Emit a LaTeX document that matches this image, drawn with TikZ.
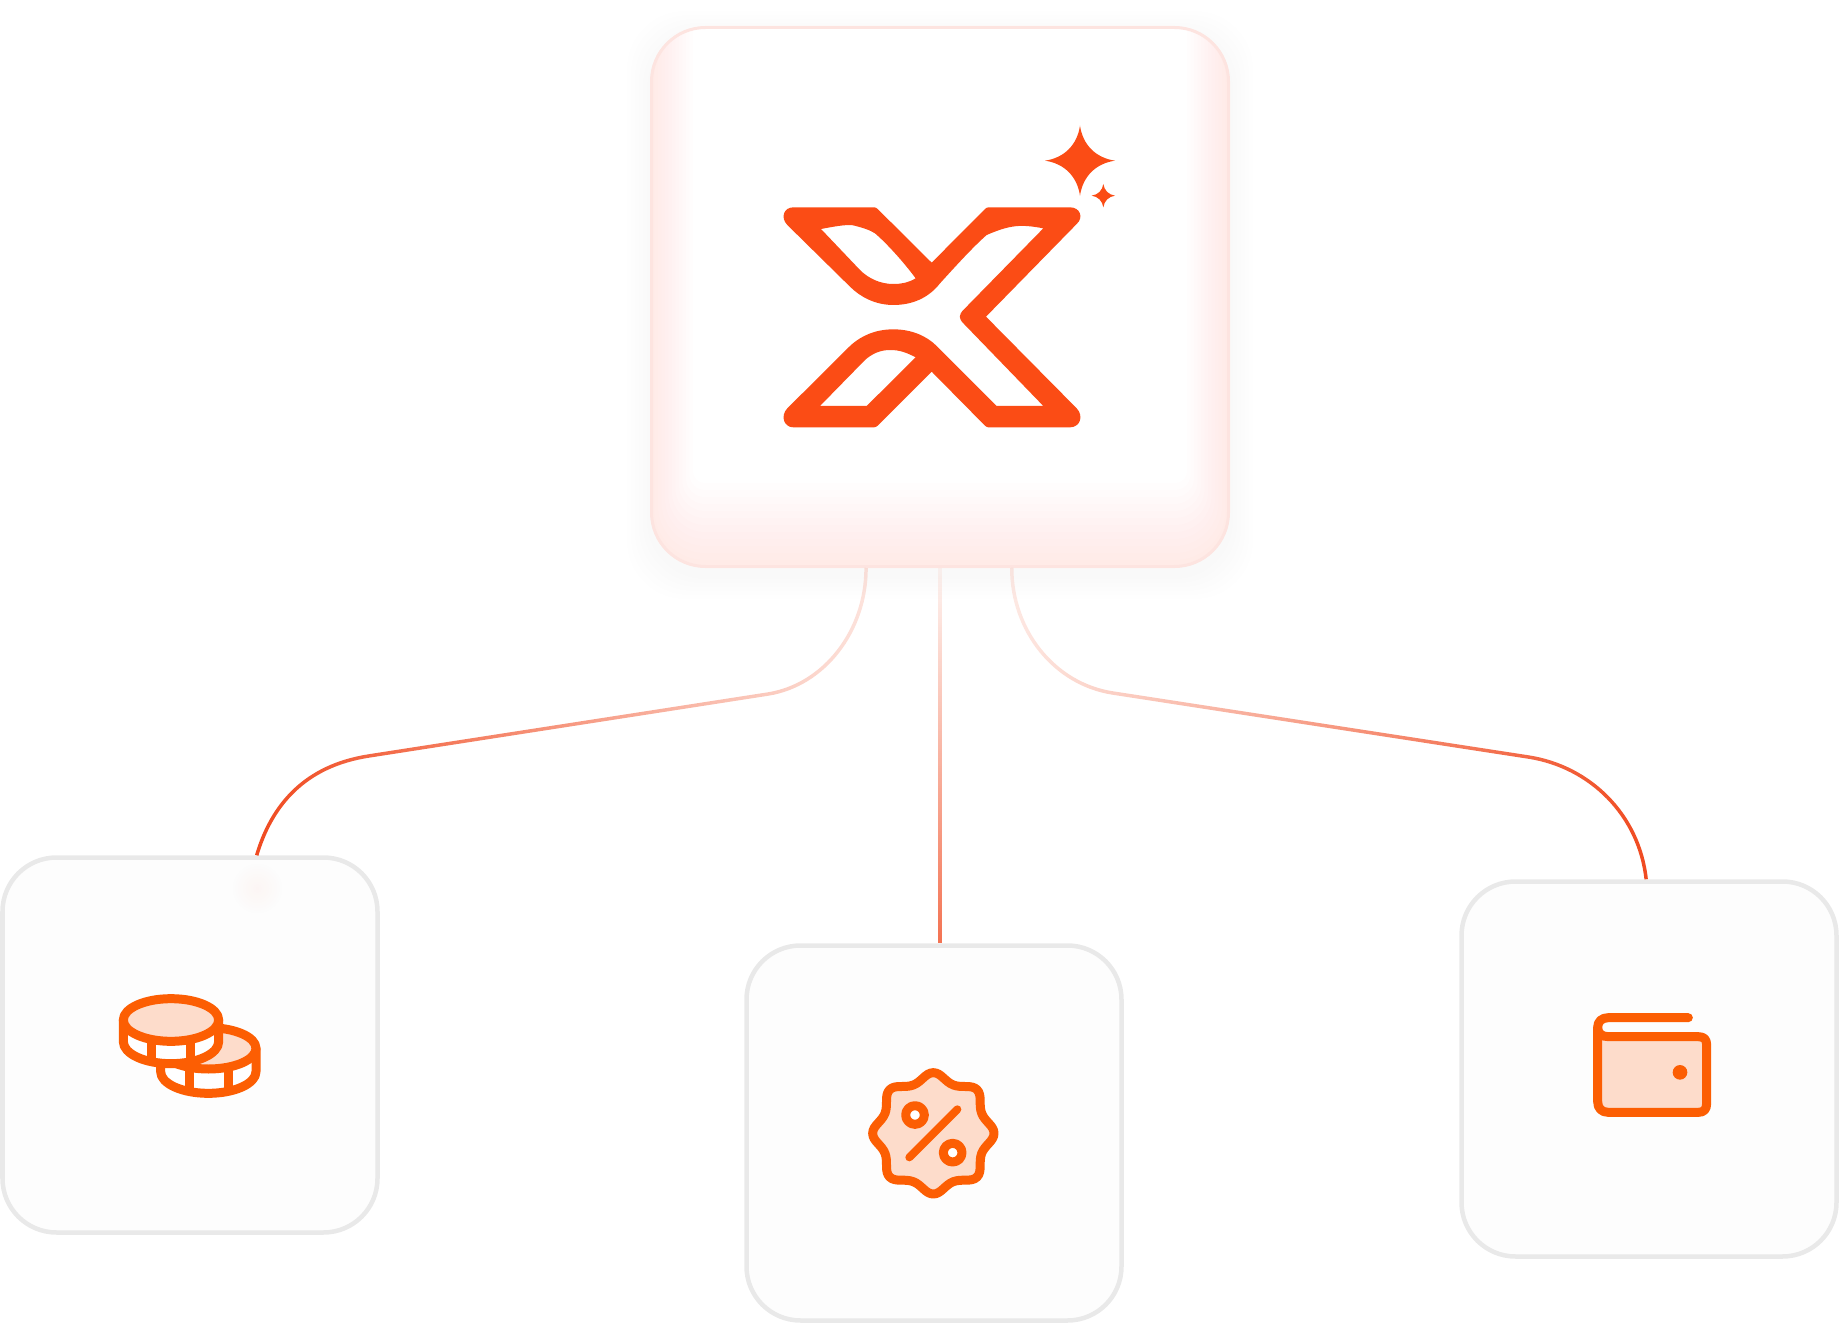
\documentclass[tikz,border=0pt]{standalone}
\usetikzlibrary{fadings,calc}
\definecolor{logoc}{HTML}{FB4C15}
\definecolor{iconc}{HTML}{FC5E03}
\definecolor{peach}{HTML}{FDDCCB}
\definecolor{linec}{HTML}{F04A20}
\definecolor{cardfill}{HTML}{FDFDFD}
\definecolor{cardline}{HTML}{E9E9E9}
\definecolor{mainline}{HTML}{FDE4E0}
\definecolor{glowc}{HTML}{FF7050}
\tikzfading[name=fadeleftline,left color=transparent!0,middle color=transparent!5,right color=transparent!85]
\tikzfading[name=faderightline,right color=transparent!0,middle color=transparent!5,left color=transparent!88]
\tikzfading[name=fadedownline,bottom color=transparent!22,top color=transparent!95]
\tikzfading[name=softspot,inner color=transparent!96,outer color=transparent!100]
\tikzset{
  cardbox/.style={draw=cardline,fill=cardfill,line width=4.5pt,rounded corners=54pt,minimum width=375pt,minimum height=375pt,inner sep=0pt},
  mainbox/.style={draw=mainline,line width=3pt,rounded corners=54pt,minimum width=577pt,minimum height=539pt,inner sep=0pt},
  conn/.style={draw=linec,line width=3.5pt,line cap=butt},
  iconline/.style={draw=iconc,line width=9pt,line join=round,line cap=round},
  zoomA/.style={shift={(#1)},x=0.33333pt,y=-0.33333pt},
}
\newcommand{\sparkle}[3]{%
  \fill[logoc] (#1,#2-#3) .. controls (#1+0.08*#3,#2-0.45*#3) and (#1+0.45*#3,#2-0.08*#3) .. (#1+#3,#2)
   .. controls (#1+0.45*#3,#2+0.08*#3) and (#1+0.08*#3,#2+0.45*#3) .. (#1,#2+#3)
   .. controls (#1-0.08*#3,#2+0.45*#3) and (#1-0.45*#3,#2+0.08*#3) .. (#1-#3,#2)
   .. controls (#1-0.45*#3,#2-0.08*#3) and (#1-0.08*#3,#2-0.45*#3) .. (#1,#2-#3) -- cycle;}
\begin{document}
\begin{tikzpicture}[x=1pt,y=-1pt]
\useasboundingbox (0,0) rectangle (1840,1324);
% outer soft shadow of the main box
\foreach \i in {1,...,6}{
  \pgfmathsetmacro{\d}{\i*4}
  \fill[black,opacity=0.004,rounded corners=58pt] (651-\d,27-\d+8) rectangle (1229+\d,567+\d+8);
}
\fill[white,rounded corners=54pt] (651,27) rectangle (1229,567);
% inner glow
\begin{scope}
  \clip[rounded corners=54pt] (651,27) rectangle (1229,567);
  \foreach \i in {1,...,12}{
    \pgfmathsetmacro{\b}{567-\i*3.5}
    \pgfmathsetmacro{\w}{\i*7}
    \draw[glowc,opacity=0.007,line width=\w pt,rounded corners=54pt] (651,-40) rectangle (1229,\b);
  }
\end{scope}
\node[mainbox] (main) at (940,297) {};
\node[cardbox] (coins) at (190,1045) {};
\node[cardbox] (promo) at (934,1133) {};
\node[cardbox] (wallet) at (1649,1069) {};
% faint glow below the left connector end
\fill[linec,path fading=softspot] (257,888) circle (26);
% connectors
\draw[conn,path fading=fadeleftline] ([xshift=-73pt]main.south) .. controls +(0,63) and (825,685) .. (769,694)
  -- (369,756) .. controls (305,766) and (272,805) .. ([xshift=67pt]coins.north);
\draw[conn,path fading=fadedownline] (main.south) -- (main.south |- promo.north) ([xshift=2pt]main.south);
\draw[conn,path fading=faderightline] ([xshift=72pt]main.south) .. controls +(0,63) and (1055,684) .. (1113,693)
  -- (1529,757) .. controls (1591,766.5) and (1640,815) .. ([xshift=-2pt]wallet.north);
% logo
\begin{scope}[zoomA={740,100}]
\fill[logoc,even odd rule]
 (160,322) -- (395,322) .. controls (408,322) .. (418,332) -- (575,488) -- (730,332) .. controls (740,322) .. (752,322)
 -- (990,322) .. controls (1020,322) and (1032,352) .. (1010,372) -- (738,650) -- (1010,925)
 .. controls (1032,948) and (1020,982) .. (990,982) -- (752,982) .. controls (740,982) .. (730,972)
 -- (575,815) -- (418,972) .. controls (408,982) .. (395,982) -- (160,982)
 .. controls (132,982) and (120,948) .. (142,925) -- (330,738)
 .. controls (365,705) and (410,688) .. (460,688) .. controls (515,688) and (560,708) .. (590,738)
 -- (770,918) -- (910,918) -- (672,672) .. controls (655,655) and (655,645) .. (672,628) -- (910,385)
 .. controls (840,372) and (810,375) .. (740,405) .. controls (700,440) and (650,495) .. (600,550)
 .. controls (565,595) and (515,615) .. (460,615) .. controls (405,615) and (360,590) .. (330,560)
 -- (142,375) .. controls (120,352) and (132,322) .. (160,322) -- cycle
 (243,387) .. controls (290,378) and (310,375) .. (335,375) .. controls (365,382) and (390,390) .. (405,400)
 .. controls (440,430) and (490,485) .. (527,535) .. controls (505,548) and (485,552) .. (460,552)
 .. controls (420,552) and (385,535) .. (360,510) -- cycle
 (240,918) -- (380,918) -- (527,772) .. controls (500,758) and (480,750) .. (450,750)
 .. controls (420,750) and (395,762) .. (375,780) -- cycle;
\sparkle{1020}{182}{105}
\sparkle{1090}{287}{35}
\end{scope}
% coins icon
\begin{scope}[zoomA={100,970}]
\filldraw[iconline,fill=white] (182,235) -- (182,305) arc[start angle=180,end angle=0,x radius=143,y radius=65] -- (468,235) -- cycle;
\filldraw[iconline,fill=peach] (325,235) ellipse [x radius=143,y radius=62];
\draw[iconline] (268,296) -- (268,358) (385,296) -- (385,352);
\filldraw[iconline,fill=white] (70,150) -- (70,215) arc[start angle=180,end angle=0,x radius=143,y radius=66] -- (356,150) -- cycle;
\filldraw[iconline,fill=peach] (213,150) ellipse [x radius=143,y radius=64];
\draw[iconline] (155,212) -- (155,270) (270,212) -- (270,270);
\end{scope}
% percent badge icon
\begin{scope}[zoomA={850,1050}]
\filldraw[iconline,fill=peach] plot[smooth cycle,tension=0.7] coordinates {(432,250) (395,310) (381,381) (310,395) (250,432) (190,395) (119,381) (105,310) (68,250) (105,190) (119,119) (190,105) (250,68) (310,105) (381,119) (395,190)};
\filldraw[iconline,fill=white] (195,195) circle (28);
\filldraw[iconline,fill=white] (308,308) circle (28);
\draw[iconline,line width=8pt] (178,322) -- (322,178);
\end{scope}
% wallet icon
\begin{scope}[zoomA={1570,990}]
\fill[peach] (90,145) rectangle (405,360);
\draw[iconline] (355,83) -- (115,83) .. controls (95,83) and (83,95) .. (83,112) -- (83,335)
  .. controls (83,355) and (95,367) .. (115,367) -- (385,367) .. controls (402,367) and (410,358) .. (410,340)
  -- (410,165) .. controls (410,148) and (402,140) .. (385,140) -- (115,140) .. controls (95,140) and (83,130) .. (83,112);
\fill[iconc] (330,247) circle (22);
\end{scope}
\end{tikzpicture}
\end{document}
